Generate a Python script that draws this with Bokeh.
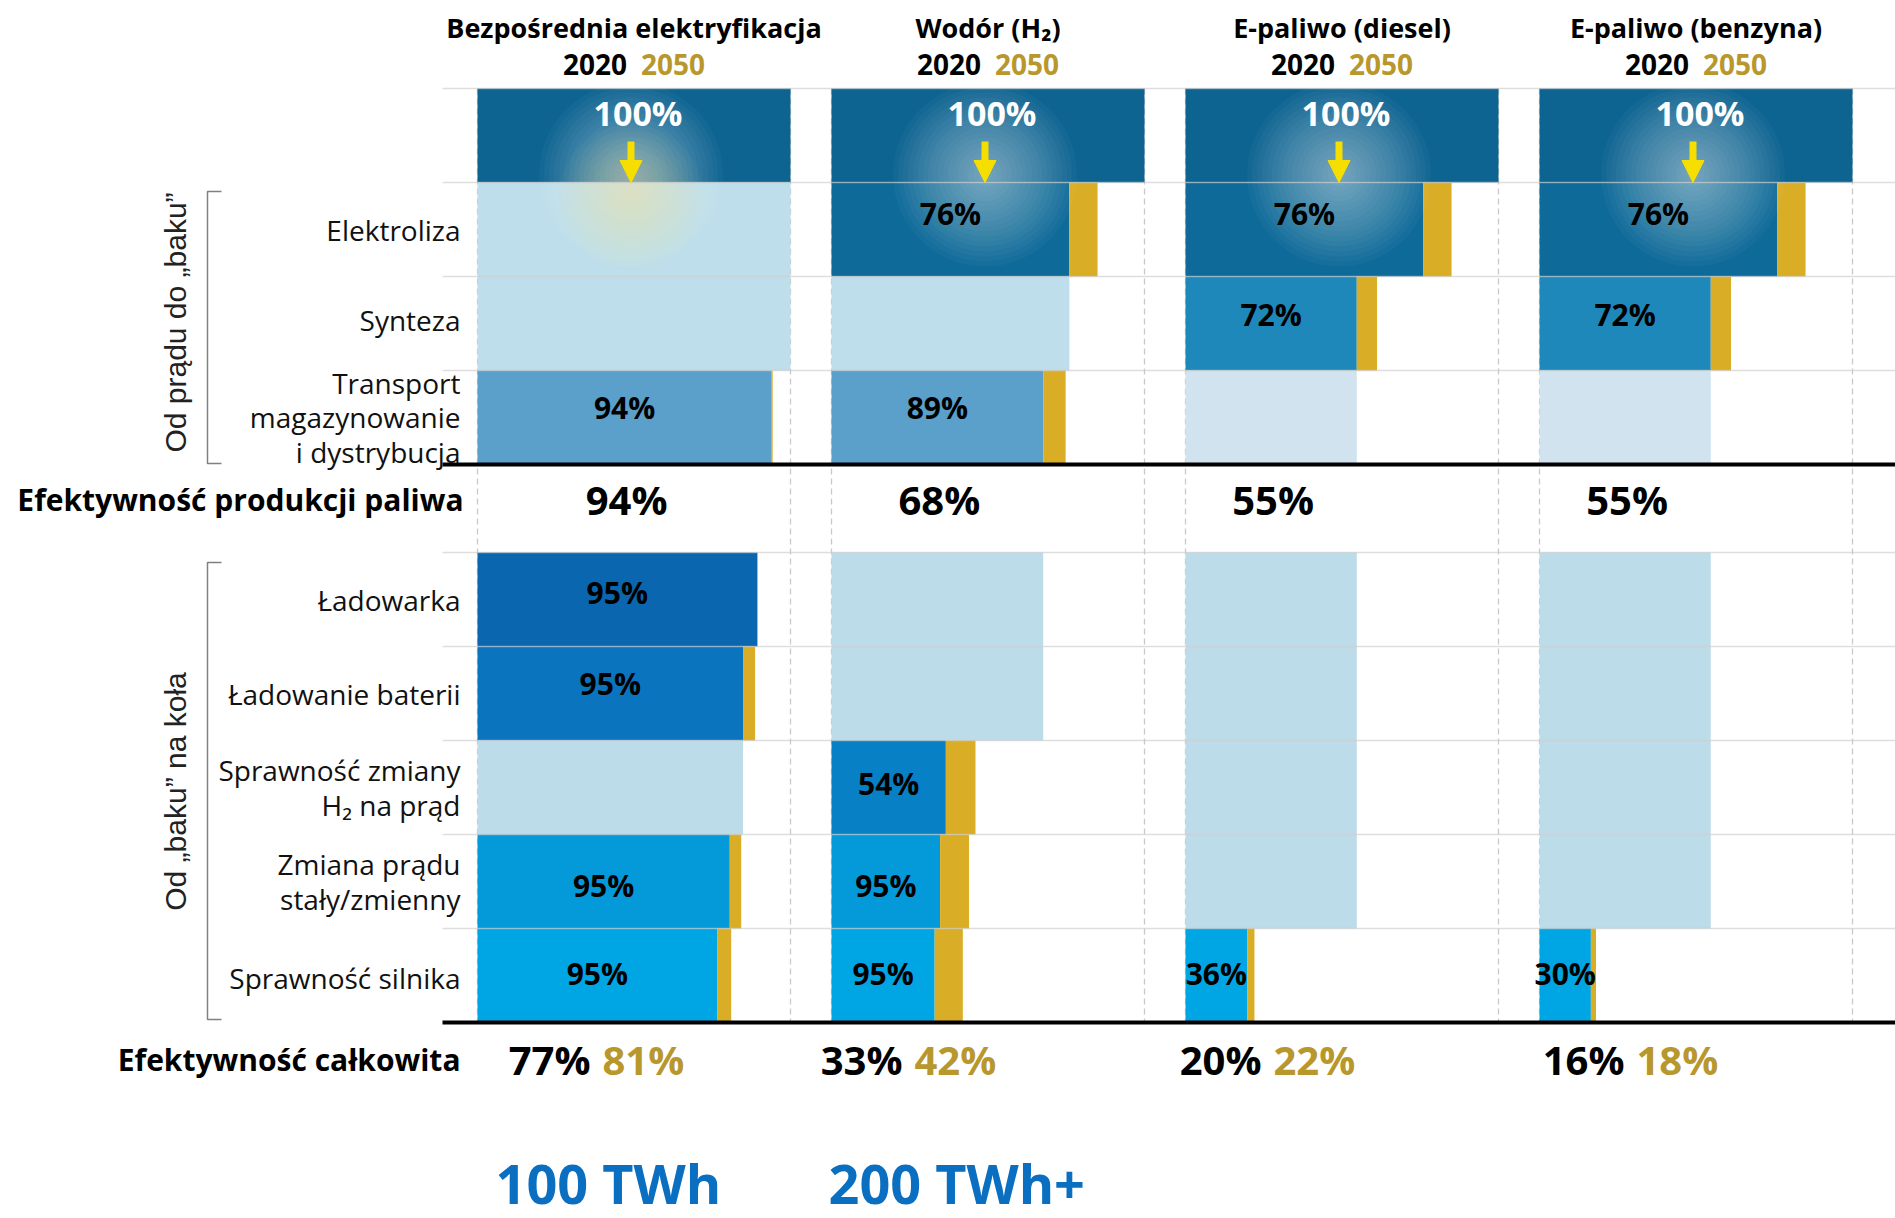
import numpy as np
from bokeh.plotting import figure
from bokeh.models import Range1d, Arrow, NormalHead
from bokeh.core.properties import value
from bokeh.embed import file_html
from bokeh.resources import INLINE

# ---------------------------------------------------------------- data
pathways = ["Bezpośrednia elektryfikacja", "Wodór (H₂)", "E-paliwo (diesel)", "E-paliwo (benzyna)"]
steps = ["Elektroliza", "Synteza", "Transport\nmagazynowanie\ni dystrybucja",
         "Ładowarka", "Ładowanie baterii", "Sprawność zmiany\nH₂ na prąd",
         "Zmiana prądu\nstały/zmienny", "Sprawność silnika"]
groups = ["Od prądu do „baku”", "Od „baku” na koła"]
years = ["2020", "2050"]

# efficiency of each step in % (None = step not used in this pathway)
eff2020_direct   = [None, None, 94, 95, 95, None, 95, 95]
eff2020_hydrogen = [76, None, 89, None, None, 54, 95, 95]
eff2020_ediesel  = [76, 72, None, None, None, None, None, 36]
eff2020_epetrol  = [76, 72, None, None, None, None, None, 30]

eff2050_direct   = [None, None, 94.3, 95, 99, None, 95, 96.2]
eff2050_hydrogen = [85, None, 88, None, None, 61.5, 95.5, 95.5]
eff2050_ediesel  = [85, 72, None, None, None, None, None, 36]
eff2050_epetrol  = [85, 72, None, None, None, None, None, 29.5]

fuel_eff_2020 = [94, 68, 55, 55]
total_2020 = [77, 33, 20, 16]
total_2050 = [81, 42, 22, 18]
energy_labels = ["100 TWh", "200 TWh+"]

eff2020 = [eff2020_direct, eff2020_hydrogen, eff2020_ediesel, eff2020_epetrol]
eff2050 = [eff2050_direct, eff2050_hydrogen, eff2050_ediesel, eff2050_epetrol]

# ---------------------------------------------------------------- layout
W, H = 1895, 1218


def Y(v):
    """layout is worked out top-down; flip into the plot's y axis"""
    return H - v


col_left = [477, 831, 1185, 1539]
col_w = 313
col_ctr = [c + col_w / 2 for c in col_left]
box_top, box_bot = 88, 182
row_top = [182, 276, 370, 552, 646, 740, 834, 928]
row_h = 94
label_dy = [-16, -9, -10, -7, -10, -4, 4, -2]
step_label_dy = [0, -4, 0, 0, 0, 0, 0, 2]
total_mid_dx = [119, 77, 82, 91]
energy_x = [495, 828]

active_col = ["#0e6a98", "#1e88bb", "#5b9fcb", "#0a66ae",
              "#0a75be", "#0880c6", "#049ad9", "#00a6e3"]
light_col = ["#bddeea", "#bddeea", "#d0e3ef", "#bcdcea",
             "#bcdcea", "#bcdcea", "#bcdcea", "#bcdcea"]
GOLD = "#d9ad26"
GOLD_TXT = "#b8972c"
TOP_BLUE = "#0d6491"
FONT = value("Open Sans")

p = figure(width=W, height=H, x_range=Range1d(0, W), y_range=Range1d(0, H),
           output_backend="svg", toolbar_location=None,
           x_axis_location=None, y_axis_location=None, min_border=0)
p.grid.visible = False
p.outline_line_color = None
p.background_fill_color = "white"
p.border_fill_color = "white"

# dashed column guides
for c in col_left:
    for xv in (c, c + col_w):
        p.line([xv, xv], [Y(box_top), Y(1022)], line_color="#c9c9c9",
               line_width=1.3, line_dash="6 4")

# top 100 % boxes
p.quad(left=col_left, right=[c + col_w for c in col_left],
       top=[Y(box_top)] * 4, bottom=[Y(box_bot)] * 4,
       fill_color=TOP_BLUE, line_color=None)

# step bars
bl, br, bt, bb, bc = [], [], [], [], []
gl, gr, gt, gb = [], [], [], []
lx, ly, lt = [], [], []
fuel_ext = []
for j in range(4):
    cum20, cum50 = 1.0, 1.0
    for i in range(len(steps)):
        top, bot = Y(row_top[i]), Y(row_top[i] + row_h)
        e20, e50 = eff2020[j][i], eff2050[j][i]
        if e20 is None:
            bl.append(col_left[j]); br.append(col_left[j] + cum20 * col_w)
            bt.append(top); bb.append(bot); bc.append(light_col[i])
        else:
            cum20 *= e20 / 100
            cum50 *= e50 / 100
            bl.append(col_left[j]); br.append(col_left[j] + cum20 * col_w)
            bt.append(top); bb.append(bot); bc.append(active_col[i])
            if cum50 > cum20:
                gl.append(col_left[j] + cum20 * col_w)
                gr.append(col_left[j] + cum50 * col_w)
                gt.append(top); gb.append(bot)
            lx.append(col_left[j] + cum20 * col_w / 2)
            ly.append(Y(row_top[i] + row_h / 2 + label_dy[i]))
            lt.append(f"{e20}%")
        if i == 2:
            fuel_ext.append(cum20)

p.quad(left=bl, right=br, top=bt, bottom=bb, fill_color=bc, line_color=None)
p.quad(left=gl, right=gr, top=gt, bottom=gb, fill_color=GOLD, line_color=None)

# soft light around the arrows
glow_y = Y(174)
for r in range(92, 0, -5):
    p.circle(x=[c - 3 for c in col_ctr], y=[glow_y] * 4, radius=r,
             fill_color="white", fill_alpha=0.032, line_color=None)
warm = [c - 3 for j, c in enumerate(col_ctr) if eff2020[j][0] is None]
if warm:
    for r in range(72, 0, -6):
        p.circle(x=warm, y=[Y(196)] * len(warm), radius=r,
                 fill_color="#f0e08a", fill_alpha=0.03, line_color=None)

# row separators and section rules
for yv in [box_top] + row_top:
    p.line([442, W], [Y(yv), Y(yv)], line_color="#c8c8c8", line_alpha=0.6,
           line_width=1.5)
for yv in (464, 1022):
    p.line([442, W], [Y(yv), Y(yv)], line_color="black", line_width=4)

# arrows
for c in col_ctr:
    p.add_layout(Arrow(x_start=c - 3, y_start=Y(141), x_end=c - 3, y_end=Y(182),
                       line_color="#f6de00", line_width=7,
                       end=NormalHead(size=22, fill_color="#f6de00",
                                      line_color="#f6de00")))

# texts
p.text(x=[c + 4 for c in col_ctr], y=[Y(112)] * 4, text=["100%"] * 4,
       text_font=FONT, text_font_size="34px", text_font_style="bold",
       text_color="white", text_align="center", text_baseline="middle")
p.text(x=lx, y=ly, text=lt, text_font=FONT, text_font_size="30px",
       text_font_style="bold", text_color="black", text_align="center",
       text_baseline="middle")

p.text(x=col_ctr, y=[Y(27)] * 4, text=pathways, text_font=FONT,
       text_font_size="27px", text_font_style="bold", text_color="black",
       text_align="center", text_baseline="middle")
p.text(x=[c - 7 for c in col_ctr], y=[Y(64)] * 4, text=[years[0]] * 4,
       text_font=FONT, text_font_size="28px", text_font_style="bold",
       text_color="black", text_align="right", text_baseline="middle")
p.text(x=[c + 7 for c in col_ctr], y=[Y(64)] * 4, text=[years[1]] * 4,
       text_font=FONT, text_font_size="28px", text_font_style="bold",
       text_color=GOLD_TXT, text_align="left", text_baseline="middle")

# row labels
p.text(x=[460] * len(steps),
       y=[Y(t + row_h / 2 + d) for t, d in zip(row_top, step_label_dy)],
       text=steps, text_font=FONT, text_font_size="28px", text_color="#111111",
       text_align="right", text_baseline="middle", text_line_height=0.9)

# group brackets
for (a, b), g, gy in zip([(191, 463), (562, 1019)], groups, [322, 791]):
    p.line([221, 207, 207, 221], [Y(a), Y(a), Y(b), Y(b)],
           line_color="#808080", line_width=1.5)
    p.text(x=[175], y=[Y(gy)], text=[g], angle=np.pi / 2,
           text_font=value("Liberation Sans"), text_font_size="30px",
           text_color="#222222", text_align="center", text_baseline="middle")

# fuel production efficiency
p.text(x=[463], y=[Y(499)], text=["Efektywność produkcji paliwa"], text_font=FONT,
       text_font_size="30px", text_font_style="bold", text_color="black",
       text_align="right", text_baseline="middle")
p.text(x=[col_left[j] + fuel_ext[j] * col_w / 2 + 2 for j in range(4)],
       y=[Y(499)] * 4, text=[f"{v}%" for v in fuel_eff_2020], text_font=FONT,
       text_font_size="40px", text_font_style="bold", text_color="black",
       text_align="center", text_baseline="middle")

# overall efficiency
p.text(x=[460], y=[Y(1059)], text=["Efektywność całkowita"], text_font=FONT,
       text_font_size="30px", text_font_style="bold", text_color="black",
       text_align="right", text_baseline="middle")
mids = [col_left[j] + total_mid_dx[j] for j in range(4)]
p.text(x=[m - 6 for m in mids], y=[Y(1059)] * 4, text=[f"{v}%" for v in total_2020],
       text_font=FONT, text_font_size="40px", text_font_style="bold",
       text_color="black", text_align="right", text_baseline="middle")
p.text(x=[m + 6 for m in mids], y=[Y(1059)] * 4, text=[f"{v}%" for v in total_2050],
       text_font=FONT, text_font_size="40px", text_font_style="bold",
       text_color=GOLD_TXT, text_align="left", text_baseline="middle")

# energy demand
p.text(x=energy_x, y=[Y(1182)] * 2, text=energy_labels, text_font=FONT,
       text_font_size="54px", text_font_style="bold", text_color="#0a6fc0",
       text_align="left", text_baseline="middle")

open("out.html", "w").write(file_html(p, INLINE))
